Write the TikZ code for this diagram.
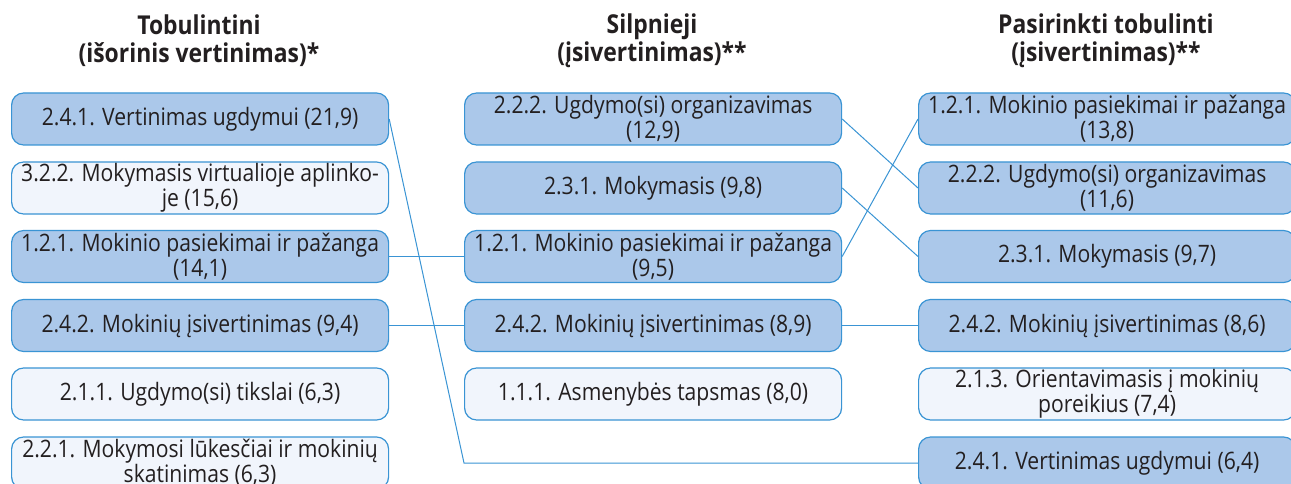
\documentclass[tikz,border=0pt]{standalone}
\usepackage{fontspec}
\setmainfont{Open Sans}[FakeStretch=0.88]
\usepackage{tikz}
\usetikzlibrary{positioning}
\definecolor{boxblue}{RGB}{171,200,234}
\definecolor{boxpale}{RGB}{241,245,252}
\definecolor{lineblue}{RGB}{58,148,212}
\definecolor{textdark}{RGB}{35,31,32}

\begin{document}
\begin{tikzpicture}[
        x=1pt, y=-1pt,
        item/.style={
            rectangle, draw=lineblue, line width=1.2pt, rounded corners=12pt,
            text=textdark, align=center, font=\fontsize{24}{25}\selectfont,
            inner sep=0pt, minimum width=377pt, minimum height=52pt, anchor=west
        },
        high/.style={item, fill=boxblue},
        low/.style={item, fill=boxpale},
        title/.style={
            text=textdark, align=center, font=\bfseries\fontsize{26}{28}\selectfont
        },
        link/.style={draw=lineblue, line width=1pt}
    ]
    \useasboundingbox[fill=white] (0,0) rectangle (1291,484);

    % Titles
    \node[title] (t1) at (199,41) {Tobulintini\\(išorinis vertinimas)*};
    \node[title] (t2) at (652,41) {Silpnieji\\(įsivertinimas)**};
    \node[title] (t3) at (1106,41) {Pasirinkti tobulinti\\(įsivertinimas)**};

    % Column 1
    \node[high] (l1) at (11,119) {2.4.1. Vertinimas ugdymui (21,9)};
    \node[low]  (l2) at (11,188) {3.2.2. Mokymasis virtualioje aplinko-\\je (15,6)};
    \node[high] (l3) at (11,256.5) {1.2.1. Mokinio pasiekimai ir pažanga\\(14,1)};
    \node[high] (l4) at (11,325.5) {2.4.2. Mokinių įsivertinimas (9,4)};
    \node[low]  (l5) at (11,394) {2.1.1. Ugdymo(si) tikslai (6,3)};
    \node[low]  (l6) at (11,463) {2.2.1. Mokymosi lūkesčiai ir mokinių\\skatinimas (6,3)};

    % Column 2
    \node[high] (m1) at (464,119) {2.2.2. Ugdymo(si) organizavimas\\(12,9)};
    \node[high] (m2) at (464,188) {2.3.1. Mokymasis (9,8)};
    \node[high] (m3) at (464,256.5) {1.2.1. Mokinio pasiekimai ir pažanga\\(9,5)};
    \node[high] (m4) at (464,325.5) {2.4.2. Mokinių įsivertinimas (8,9)};
    \node[low]  (m5) at (464,394) {1.1.1. Asmenybės tapsmas (8,0)};

    % Column 3
    \node[high] (r1) at (918,119) {1.2.1. Mokinio pasiekimai ir pažanga\\(13,8)};
    \node[high] (r2) at (918,188) {2.2.2. Ugdymo(si) organizavimas\\(11,6)};
    \node[high] (r3) at (918,256.5) {2.3.1. Mokymasis (9,7)};
    \node[high] (r4) at (918,325.5) {2.4.2. Mokinių įsivertinimas (8,6)};
    \node[low]  (r5) at (918,394) {2.1.3. Orientavimasis į mokinių\\poreikius (7,4)};
    \node[high] (r6) at (918,463) {2.4.1. Vertinimas ugdymui (6,4)};

    % Connecting lines
    \draw[link] (l1.east) -- (m1.west |- r6.west) -- (r6.west);
    \draw[link] (l3.east) -- (m3.west);
    \draw[link] (l4.east) -- (m4.west);
    \draw[link] (m4.east) -- (r4.west);
    \draw[link] (m1.east) -- (r2.west);
    \draw[link] (m2.east) -- (r3.west);
    \draw[link] (m3.east) -- (r1.west);

\end{tikzpicture}
\end{document}
